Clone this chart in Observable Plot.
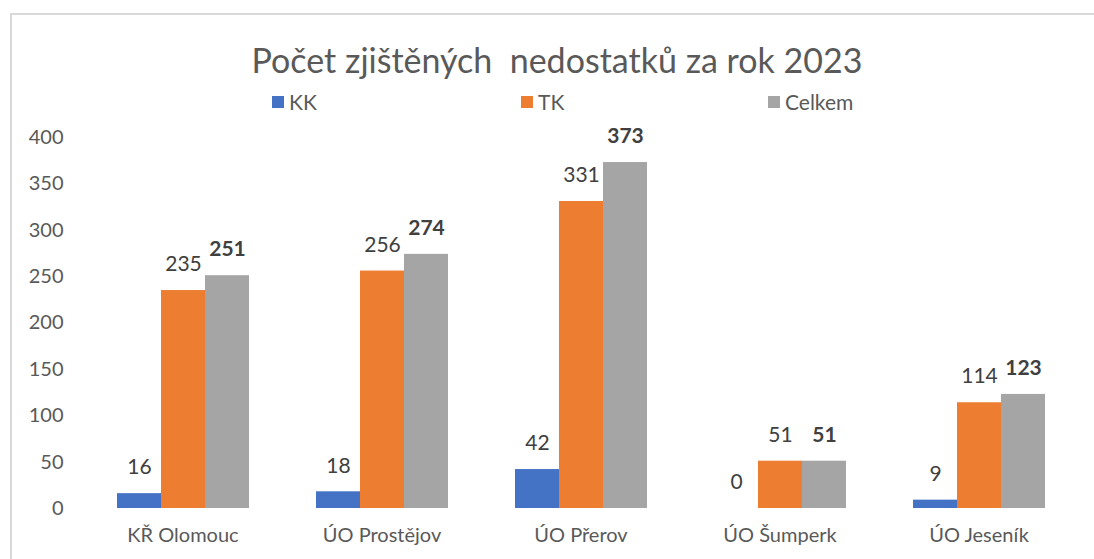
<!DOCTYPE html>
<html>
<head>
<meta charset="utf-8">
<script src="https://cdn.jsdelivr.net/npm/d3@7"></script>
<script src="https://cdn.jsdelivr.net/npm/@observablehq/plot@0.6"></script>
<style>
  html, body { margin: 0; padding: 0; background: #fff; }
  #wrap { position: relative; width: 1094px; height: 559px; overflow: hidden; font-family: Lato, "Open Sans", sans-serif; }
  #frame { position: absolute; left: 10px; top: 13px; right: -5px; bottom: -5px; border-top: 2px solid #d9d9d9; border-left: 2px solid #d9d9d9; }
  #title { position: absolute; left: 20px; right: 0; top: 41px; text-align: center; font-size: 34px; line-height: 38px; color: #595959; white-space: pre; }
  .leg { position: absolute; top: 90px; font-size: 21px; line-height: 24px; color: #595959; display: flex; align-items: center; }
  .leg span.sw { display: inline-block; width: 12px; height: 12px; margin-right: 5px; }
  #chart { position: absolute; left: 0; top: 115px; }
</style>
</head>
<body>
<div id="wrap">
  <div id="frame"></div>
  <div id="title">Počet zjištěných  nedostatků za rok 2023</div>
  <div id="legend"></div>
  <div id="chart"></div>
</div>
<script>
const categories = ["KŘ Olomouc", "ÚO Prostějov", "ÚO Přerov", "ÚO Šumperk", "ÚO Jeseník"];
const seriesNames = ["KK", "TK", "Celkem"];
const kk = [16, 18, 42, 0, 9];
const tk = [235, 256, 331, 51, 114];
const celkem = [251, 274, 373, 51, 123];
const colors = ["#4472C4", "#ED7D31", "#A5A5A5"];
const yTicks = [0, 50, 100, 150, 200, 250, 300, 350, 400];

const seriesValues = [kk, tk, celkem];
const data = [];
categories.forEach((c, i) => {
  seriesNames.forEach((s, j) => data.push({category: c, series: s, value: seriesValues[j][i]}));
});

const legendLeft = [272, 521, 768];
const legend = document.getElementById("legend");
seriesNames.forEach((s, j) => {
  const d = document.createElement("div");
  d.className = "leg";
  d.style.left = legendLeft[j] + "px";
  d.innerHTML = `<span class="sw" style="background:${colors[j]}"></span>${s}`;
  legend.appendChild(d);
});

const chart = Plot.plot({
  width: 1094,
  height: 438,
  marginLeft: 81,
  marginRight: 14,
  marginTop: 22,
  marginBottom: 45,
  style: {fontFamily: "Lato, 'Open Sans', sans-serif", fontSize: "20px", color: "#595959", background: "transparent", overflow: "visible"},
  fx: {domain: categories, paddingInner: 0.33, paddingOuter: 0.165, label: null},
  x: {domain: seriesNames, padding: 0, axis: null},
  y: {domain: [0, 400], label: null},
  color: {domain: seriesNames, range: colors},
  marks: [
    Plot.axisY({ticks: yTicks, tickSize: 0, tickPadding: 53, label: null, fontSize: 20, fill: "#595959"}),
    Plot.axisFx({anchor: "bottom", tickSize: 0, tickPadding: 19, label: null, fontSize: 20, fill: "#595959"}),
    Plot.barY(data, {fx: "category", x: "series", y: "value", fill: "series"}),
    Plot.text(data.filter(d => d.series !== "Celkem"), {fx: "category", x: "series", y: "value", text: d => String(d.value), dy: -26, lineAnchor: "middle", fill: "#404040", fontSize: 21}),
    Plot.text(data.filter(d => d.series === "Celkem"), {fx: "category", x: "series", y: "value", text: d => String(d.value), dy: -26, lineAnchor: "middle", fill: "#404040", fontSize: 21, fontWeight: "bold"})
  ]
});
document.getElementById("chart").appendChild(chart);
</script>
</body>
</html>
